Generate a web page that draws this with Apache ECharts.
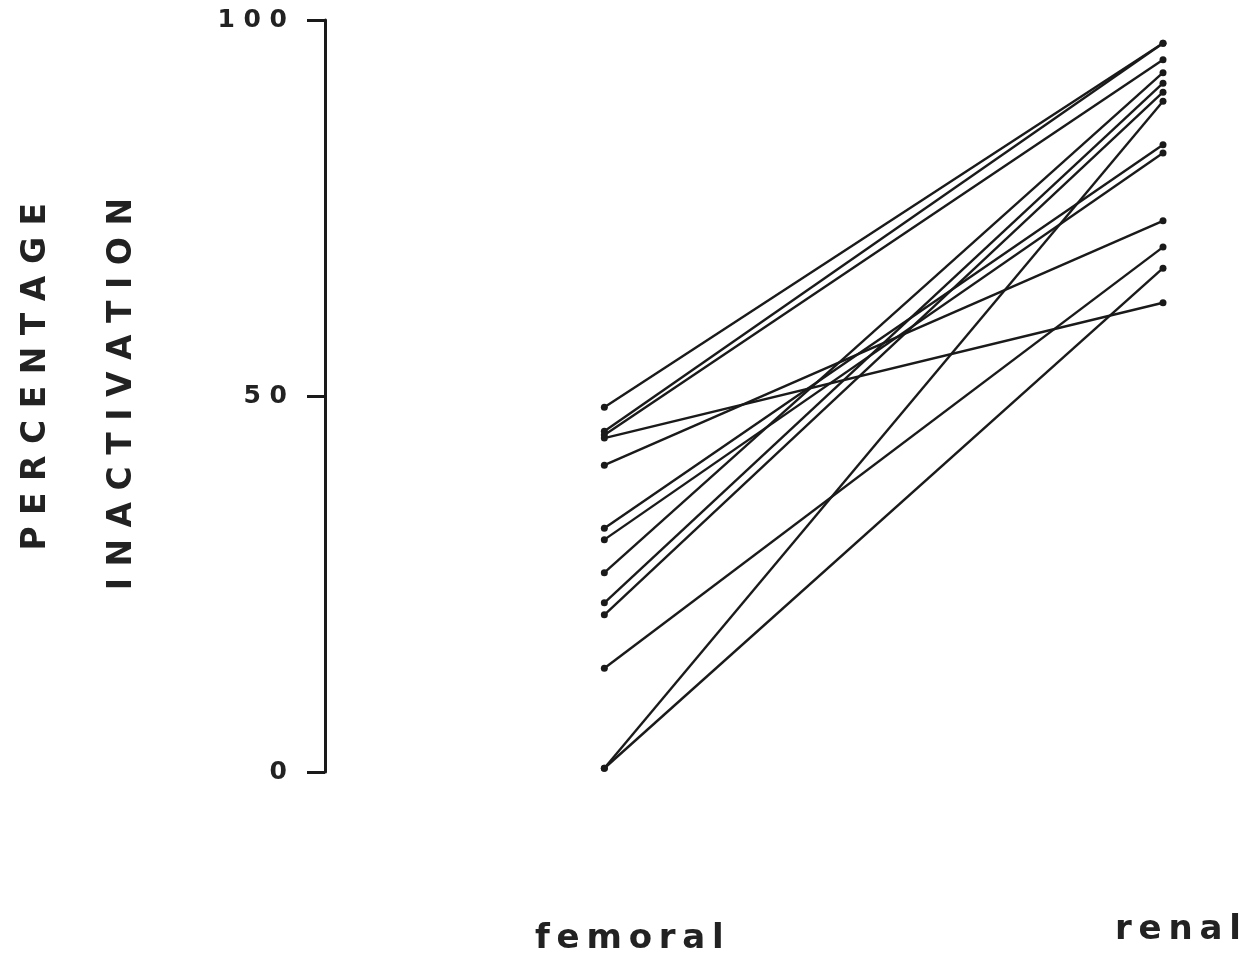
<!DOCTYPE html>
<html>
<head>
<meta charset="utf-8">
<script src="https://cdn.jsdelivr.net/npm/echarts@6/dist/echarts.min.js"></script>
<style>
html,body{margin:0;padding:0;background:#fff;}
#chart{width:1247px;height:969px;}
</style>
</head>
<body>
<div id="chart"></div>
<script>
// Data (percentage inactivation, paired per subject)
var categories = ['femoral', 'renal'];
var femoral = [48.5, 45.3, 44.8, 44.4, 40.8, 32.4, 30.9, 26.5, 22.5, 20.9, 13.8, 0.5, 0.5];
var renal   = [96.9, 96.9, 94.7, 62.4, 73.3, 83.4, 82.3, 93.0, 91.6, 90.4, 69.8, 89.2, 67.0];
var yTicks = [0, 50, 100];
var yTitle1 = 'PERCENTAGE';
var yTitle2 = 'INACTIVATION';

function spaced(s, sep) { return String(s).split('').join(sep || ' '); }
var THIN = '\u2009';

var series = femoral.map(function (f, i) {
  return {
    type: 'line',
    data: [[0, f], [1, renal[i]]],
    symbol: 'circle',
    symbolSize: 7,
    lineStyle: { color: '#1a1a1a', width: 2.4 },
    itemStyle: { color: '#1a1a1a' },
    silent: true,
    animation: false
  };
});

var chart = echarts.init(document.getElementById('chart'), null, { renderer: 'canvas' });
chart.setOption({
  backgroundColor: '#ffffff',
  animation: false,
  grid: { left: 325, right: 84, top: 20, bottom: 197 },
  xAxis: {
    type: 'value', min: -0.5, max: 1,
    show: false
  },
  yAxis: {
    type: 'value', min: 0, max: 100, interval: 50,
    axisLine: { show: true, onZero: false, lineStyle: { color: '#1a1a1a', width: 3 } },
    axisTick: { show: true, length: 18, lineStyle: { color: '#1a1a1a', width: 3 } },
    splitLine: { show: false },
    axisLabel: {
      margin: 38,
      color: '#222',
      fontFamily: 'DejaVu Sans',
      fontWeight: 'bold',
      fontSize: 25,
      formatter: function (v) { return yTicks.indexOf(v) >= 0 ? spaced(v) : ''; }
    }
  },
  graphic: [
    {
      type: 'text', left: 20, top: 203, rotation: Math.PI / 2,
      style: {
        text: spaced(yTitle1), fill: '#222',
        font: 'bold 33px "DejaVu Sans"'
      }
    },
    {
      type: 'text', left: 106, top: 198, rotation: Math.PI / 2,
      style: {
        text: spaced(yTitle2), fill: '#222',
        font: 'bold 33px "DejaVu Sans"'
      }
    },
    {
      type: 'text', left: 535, top: 922,
      style: { text: spaced(categories[0], THIN), fill: '#222', font: 'bold 34px "DejaVu Sans"' }
    },
    {
      type: 'text', left: 1115, top: 913,
      style: { text: spaced(categories[1], THIN), fill: '#222', font: 'bold 34px "DejaVu Sans"' }
    }
  ],
  series: series
});
</script>
</body>
</html>
